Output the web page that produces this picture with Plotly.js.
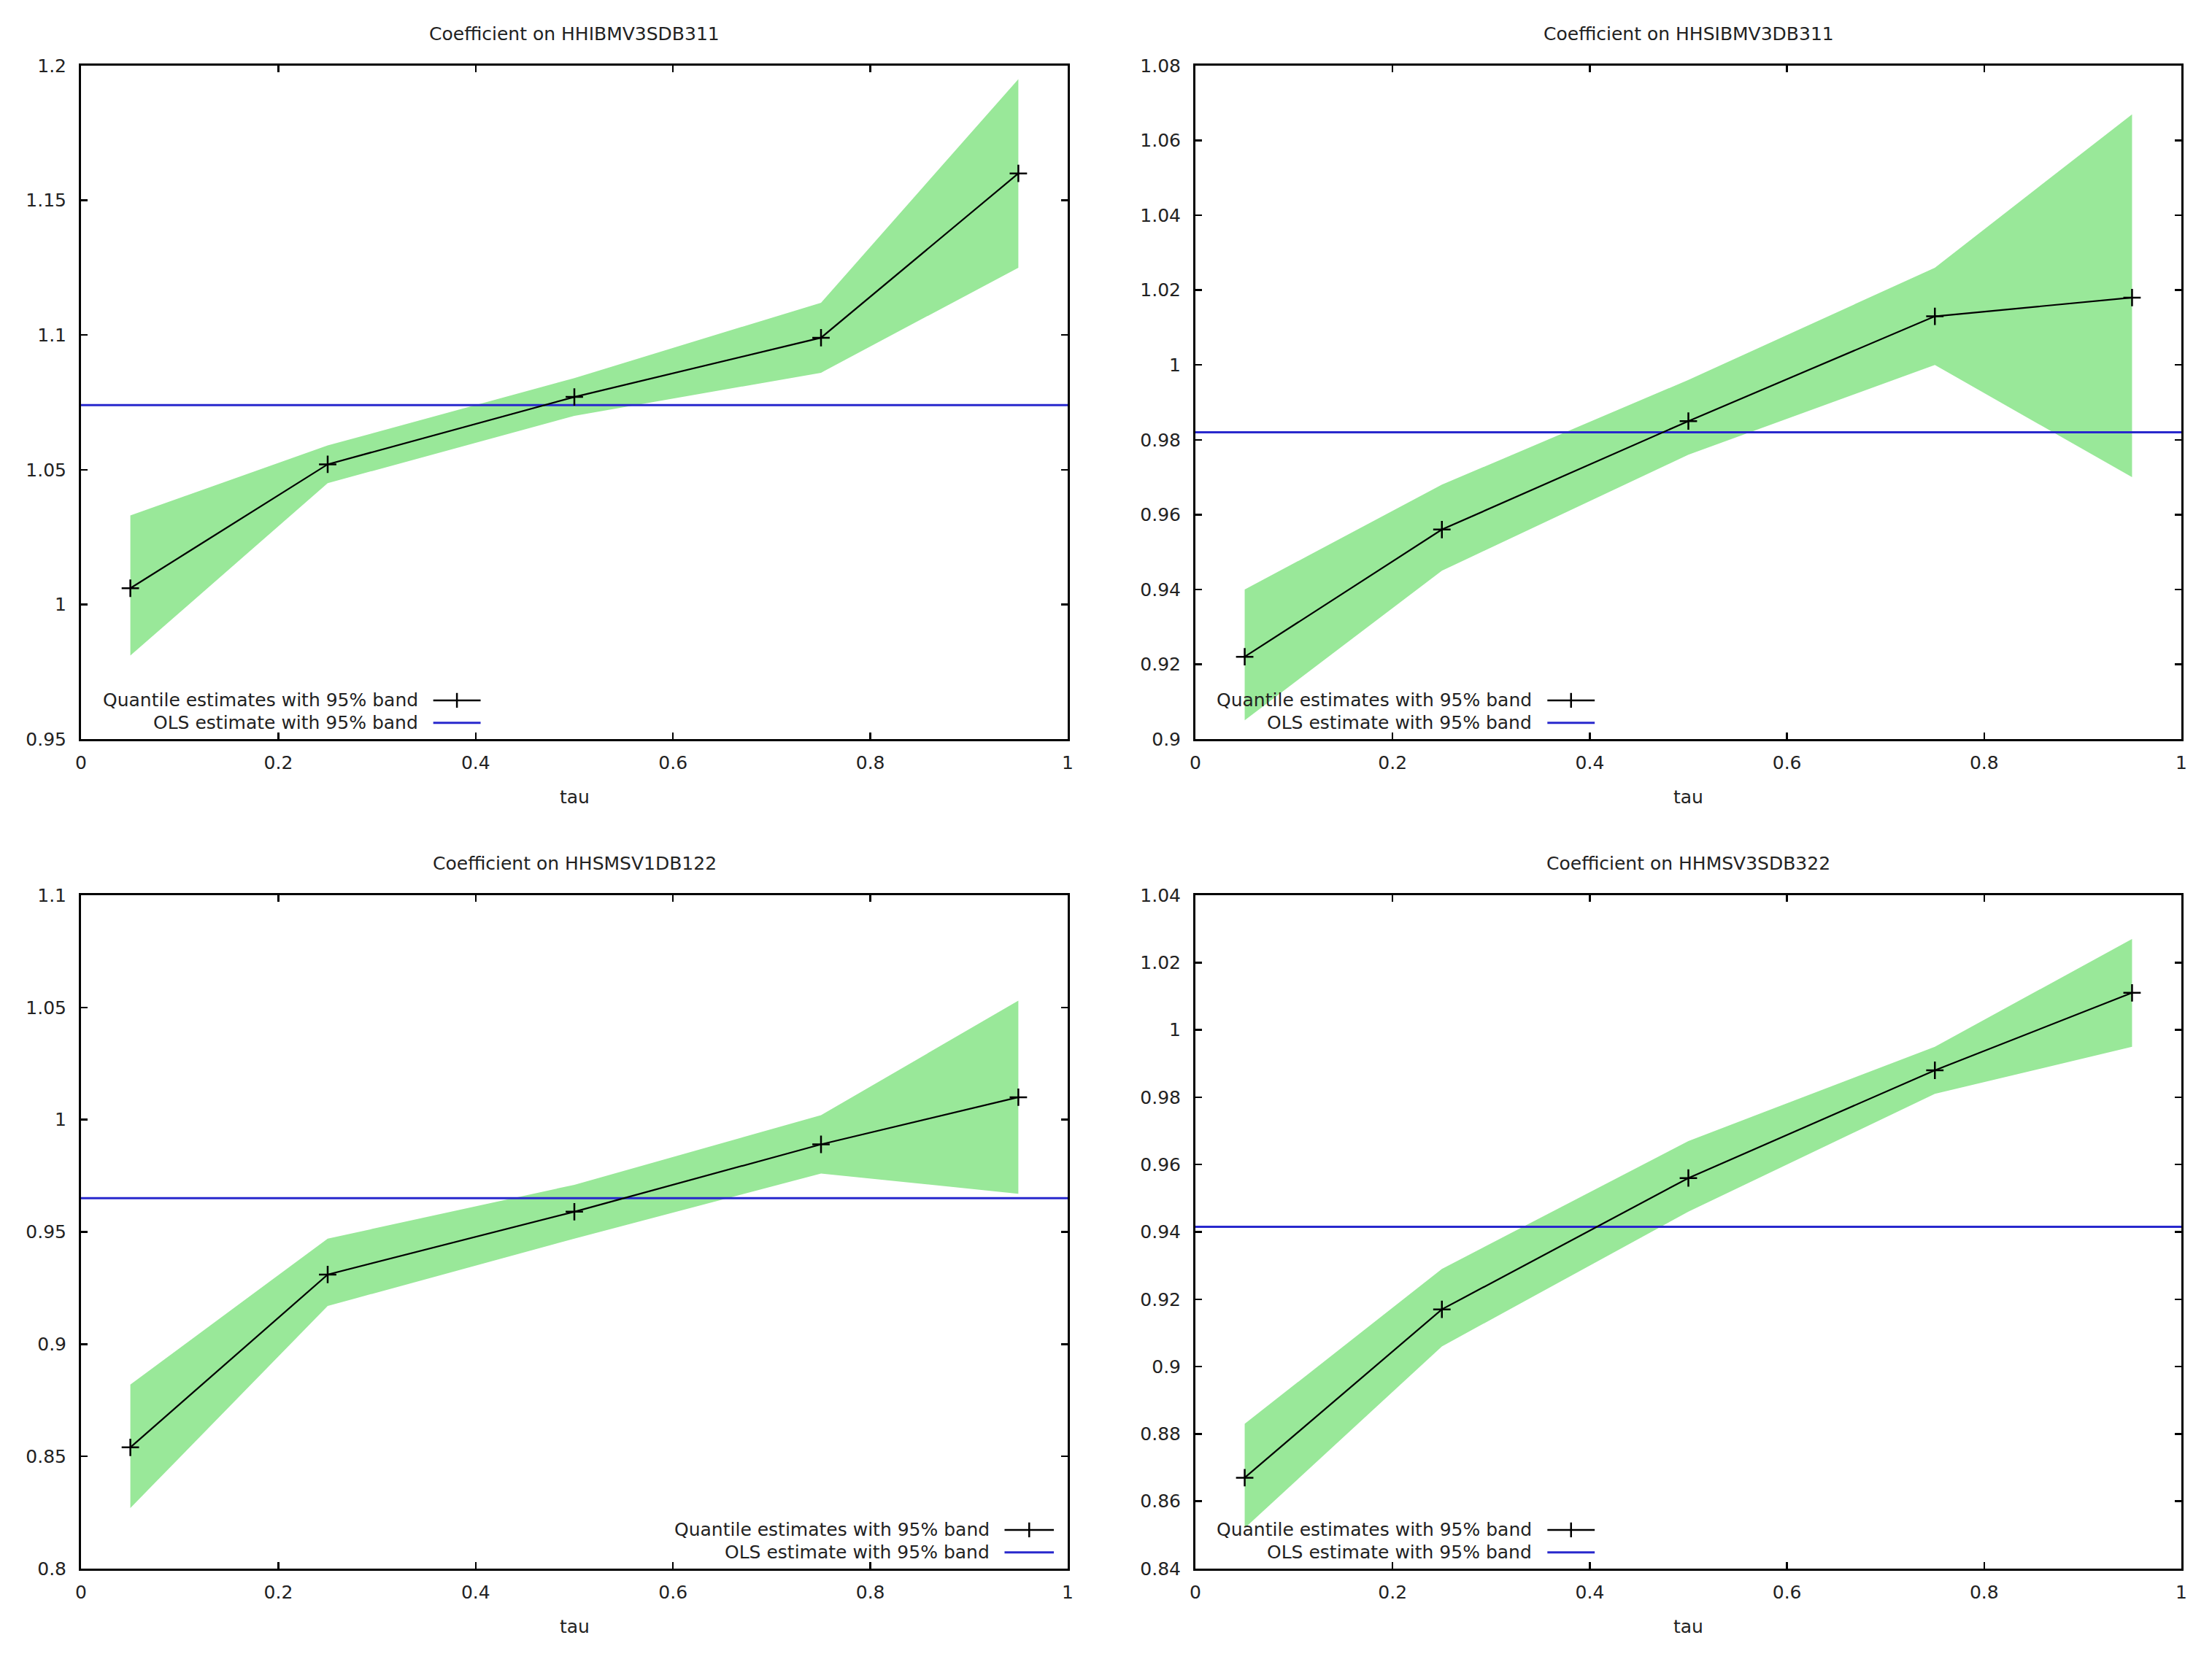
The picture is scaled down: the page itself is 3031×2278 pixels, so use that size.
<!DOCTYPE html>
<html>
<head>
<meta charset="utf-8">
<script src="https://cdn.plot.ly/plotly-3.0.1.min.js"></script>
<style>
  html, body { margin: 0; padding: 0; background: #fff; }
  #chart { width: 3031px; height: 2278px; }
</style>
</head>
<body>
<div id="chart"></div>
<script>
// quantiles where the regressions were run
const tau = [0.05, 0.25, 0.5, 0.75, 0.95];
const tauSpan = [0, 1];

const titles = [
    'Coefficient on HHIBMV3SDB311',
    'Coefficient on HHSIBMV3DB311',
    'Coefficient on HHSMSV1DB122',
    'Coefficient on HHMSV3SDB322'
];

// quantile estimates and 95% band, one array per panel
const quant1 = [1.006, 1.052, 1.077, 1.099, 1.160];
const lower1 = [0.981, 1.045, 1.070, 1.086, 1.125];
const upper1 = [1.033, 1.059, 1.084, 1.112, 1.195];
const ols1 = 1.074;

const quant2 = [0.922, 0.956, 0.985, 1.013, 1.018];
const lower2 = [0.905, 0.945, 0.976, 1.000, 0.970];
const upper2 = [0.940, 0.968, 0.996, 1.026, 1.067];
const ols2 = 0.982;

const quant3 = [0.854, 0.931, 0.959, 0.989, 1.010];
const lower3 = [0.827, 0.917, 0.947, 0.976, 0.967];
const upper3 = [0.882, 0.947, 0.971, 1.002, 1.053];
const ols3 = 0.965;

const quant4 = [0.867, 0.917, 0.956, 0.988, 1.011];
const lower4 = [0.852, 0.906, 0.946, 0.981, 0.995];
const upper4 = [0.883, 0.929, 0.967, 0.995, 1.027];
const ols4 = 0.9415;

// y axis ranges and tick steps
const yRanges = [[0.95, 1.2], [0.9, 1.08], [0.8, 1.1], [0.84, 1.04]];
const yDticks = [0.05, 0.02, 0.05, 0.02];

const legendText = ['Quantile estimates with 95% band', 'OLS estimate with 95% band'];

const panels = [
    { q: quant1, lo: lower1, hi: upper1, ols: ols1 },
    { q: quant2, lo: lower2, hi: upper2, ols: ols2 },
    { q: quant3, lo: lower3, hi: upper3, ols: ols3 },
    { q: quant4, lo: lower4, hi: upper4, ols: ols4 }
];

const W = 3031, H = 2278;
const font = 'DejaVu Sans, Verdana, sans-serif';
const fsize = 25;
const bandColor = '#99e899';
const olsColor = 'rgb(40,40,205)';

// plot boxes in pixels [left, right] / [top, bottom]
const colX = [[111, 1463], [1638, 2989]];
const rowY = [[90, 1013], [1227, 2150]];

const data = [];
const layout = {
    width: W,
    height: H,
    margin: { t: 0, b: 0, l: 0, r: 0 },
    paper_bgcolor: 'white',
    plot_bgcolor: 'white',
    showlegend: false,
    font: { family: font, size: fsize, color: '#222' },
    annotations: [],
    shapes: []
};

panels.forEach((p, i) => {
    const n = i === 0 ? '' : String(i + 1);
    const xa = 'x' + n, ya = 'y' + n;
    const cx = colX[i % 2], ry = rowY[Math.floor(i / 2)];

    data.push({
        type: 'scatter', mode: 'lines', x: tau, y: p.lo,
        xaxis: xa, yaxis: ya, line: { width: 0, color: bandColor },
        hoverinfo: 'skip'
    });
    data.push({
        type: 'scatter', mode: 'lines', x: tau, y: p.hi,
        xaxis: xa, yaxis: ya, line: { width: 0, color: bandColor },
        fill: 'tonexty', fillcolor: bandColor, hoverinfo: 'skip'
    });
    data.push({
        type: 'scatter', mode: 'lines', x: tauSpan, y: tauSpan.map(() => p.ols),
        xaxis: xa, yaxis: ya, line: { width: 3, color: olsColor },
        name: legendText[1]
    });
    data.push({
        type: 'scatter', mode: 'lines+markers', x: tau, y: p.q,
        xaxis: xa, yaxis: ya, line: { width: 2.2, color: 'black' },
        marker: { symbol: 'cross-thin-open', size: 17, color: 'black', line: { width: 2.5, color: 'black' } },
        name: legendText[0]
    });

    const axisCommon = {
        showgrid: false, zeroline: false,
        showline: true, linecolor: 'black', linewidth: 3,
        mirror: 'ticks', ticks: 'inside', ticklen: 9, tickwidth: 2.5, tickcolor: 'black',
        tickfont: { family: font, size: fsize, color: '#222' },
        fixedrange: true
    };
    layout['xaxis' + n] = Object.assign({}, axisCommon, {
        domain: [cx[0] / W, cx[1] / W],
        anchor: ya, range: tauSpan, dtick: 0.2, tick0: 0,
        ticklabelstandoff: 8
    });
    layout['yaxis' + n] = Object.assign({}, axisCommon, {
        domain: [1 - ry[1] / H, 1 - ry[0] / H],
        anchor: xa, range: yRanges[i], dtick: yDticks[i], tick0: 0,
        ticklabelstandoff: 12
    });

    const xd = xa + ' domain', yd = ya + ' domain';
    layout.annotations.push({
        xref: xd, yref: yd, x: 0.5, y: 1.047, xanchor: 'center', yanchor: 'middle',
        text: titles[i], showarrow: false, font: { family: font, size: fsize, color: '#222' }
    });
    layout.annotations.push({
        xref: xd, yref: yd, x: 0.5, y: -0.086, xanchor: 'center', yanchor: 'middle',
        text: 'tau', showarrow: false, font: { family: font, size: fsize, color: '#222' }
    });

    // key box: text on the left, line sample on the right
    const right = i === 2;
    const tx = right ? 0.922 : 0.343;
    const s0 = right ? 0.936 : 0.357;
    const s1 = right ? 0.986 : 0.405;
    const rows = [0.0575, 0.024];
    rows.forEach((ry0, k) => {
        layout.annotations.push({
            xref: xd, yref: yd, x: tx, y: ry0, xanchor: 'right', yanchor: 'middle',
            text: legendText[k], showarrow: false, font: { family: font, size: fsize, color: '#222' }
        });
        layout.shapes.push({
            type: 'line', xref: xd, yref: yd, x0: s0, x1: s1, y0: ry0, y1: ry0,
            line: { color: k === 0 ? 'black' : olsColor, width: k === 0 ? 2.5 : 3 }
        });
    });
    const mid = (s0 + s1) / 2;
    layout.shapes.push({
        type: 'line', xref: xd, yref: yd, x0: mid, x1: mid, y0: rows[0] - 0.011, y1: rows[0] + 0.011,
        line: { color: 'black', width: 2.5 }
    });
});

Plotly.newPlot('chart', data, layout, { staticPlot: true, displayModeBar: false });
</script>
</body>
</html>
